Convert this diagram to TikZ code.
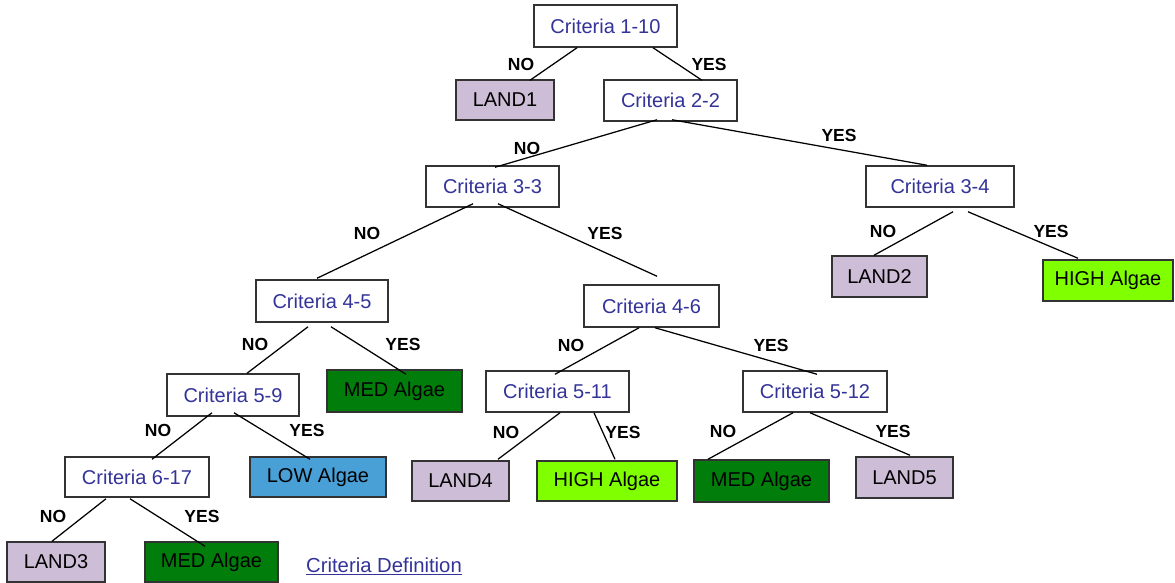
\documentclass[tikz,border=0pt]{standalone}
\usepackage{fontspec}
\setmainfont{Liberation Sans}
\definecolor{critblue}{RGB}{51,51,153}
\definecolor{landpurple}{RGB}{206,189,214}
\definecolor{medgreen}{RGB}{0,125,10}
\definecolor{highgreen}{RGB}{128,255,0}
\definecolor{lowblue}{RGB}{72,160,214}
\definecolor{boxline}{RGB}{51,51,51}
\begin{document}
\begin{tikzpicture}[x=1pt,y=-1pt,
    box/.style={rectangle,draw=boxline,line width=1.5pt,inner sep=0pt,minimum height=41pt,
      font=\fontsize{20}{23}\selectfont},
    crit/.style={box,fill=white,text=critblue},
    land/.style={box,fill=landpurple,minimum width=97pt},
    med/.style={box,fill=medgreen,minimum width=135pt},
    high/.style={box,fill=highgreen,minimum width=140pt},
    low/.style={box,fill=lowblue,minimum width=136pt},
    ans/.style={font=\fontsize{17.5}{20}\selectfont\bfseries},
    branch/.style={line width=1.25pt}]
        \useasboundingbox (0,0) rectangle (1175,582);
        % decision nodes
        \node at (605.5,26) [crit,minimum width=143pt,minimum height=42pt] (c110) {Criteria 1-10};
        \node at (670.5,100.5) [crit,minimum width=133pt] (c22) {Criteria 2-2};
        \node at (492.5,186.5) [crit,minimum width=133pt] (c33) {Criteria 3-3};
        \node at (940,186.5) [crit,minimum width=148pt] (c34) {Criteria 3-4};
        \node at (322,301) [crit,minimum width=132pt,minimum height=42pt] (c45) {Criteria 4-5};
        \node at (651.5,306) [crit,minimum width=135pt,minimum height=42pt] (c46) {Criteria 4-6};
        \node at (233,395) [crit,minimum width=132pt,minimum height=42pt] (c59) {Criteria 5-9};
        \node at (557.5,391.5) [crit,minimum width=143pt] (c511) {Criteria 5-11};
        \node at (815,391.5) [crit,minimum width=144pt] (c512) {Criteria 5-12};
        \node at (137,477) [crit,minimum width=144pt,minimum height=40pt] (c617) {Criteria 6-17};
        % leaves
        \node at (505,100) [land,minimum width=98pt,minimum height=40pt] (land1) {LAND1};
        \node at (879.5,276.5) [land,minimum width=95pt] (land2) {LAND2};
        \node at (1108,280.5) [high,minimum width=130pt] (high1) {HIGH Algae};
        \node at (394.5,391) [med,minimum height=42pt] (med1) {MED Algae};
        \node at (318,477) [low,minimum height=40pt] (low1) {LOW Algae};
        \node at (460.5,481) [land,minimum height=40pt] (land4) {LAND4};
        \node at (607,481) [high,minimum height=40pt] (high2) {HIGH Algae};
        \node at (761.5,481) [med,minimum height=42pt] (med2) {MED Algae};
        \node at (904.5,477.5) [land] (land5) {LAND5};
        \node at (56,562) [land,minimum width=98pt,minimum height=40pt] (land3) {LAND3};
        \node at (211.5,562) [med,minimum width=133pt,minimum height=40pt] (med3) {MED Algae};
        \node at (384,566) [text=critblue,font=\fontsize{20.3}{23}\selectfont] (cdef) {\underline{Criteria Definition}};
        % branches
        \draw[branch] ([xshift=-28.5pt]c110.south) -- ([xshift=25pt,yshift=-1pt]land1.north);
        \draw[branch] ([xshift=47.5pt]c110.south) -- ([xshift=31.5pt,yshift=-1pt]c22.north);
        \draw[branch] ([xshift=-13.5pt,yshift=2pt]c22.south) -- ([xshift=2.5pt,yshift=-2pt]c33.north);
        \draw[branch] ([xshift=1.5pt,yshift=2pt]c22.south) -- ([xshift=-13pt]c34.north);
        \draw[branch] ([xshift=-19.5pt,yshift=4pt]c33.south) -- ([xshift=-5pt,yshift=1pt]c45.north);
        \draw[branch] ([xshift=5.5pt,yshift=4pt]c33.south) -- ([xshift=5.5pt,yshift=8pt]c46.north);
        \draw[branch] ([xshift=13pt,yshift=-4pt]c34.south) -- ([xshift=-5.5pt]land2.north);
        \draw[branch] ([xshift=28pt,yshift=-4pt]c34.south) -- ([xshift=-30pt,yshift=1pt]high1.north);
        \draw[branch] ([xshift=-14pt,yshift=-4pt]c45.south) -- ([xshift=14pt]c59.north);
        \draw[branch] ([xshift=9pt,yshift=-4pt]c45.south) -- ([xshift=11.5pt,yshift=-5pt]med1.north);
        \draw[branch] ([xshift=-12.5pt]c46.south) -- ([xshift=-2.5pt,yshift=-4pt]c511.north);
        \draw[branch] ([xshift=3.5pt]c46.south) -- ([xshift=2pt,yshift=-4pt]c512.north);
        \draw[branch] ([xshift=-21pt,yshift=4pt]c59.south) -- ([xshift=15pt,yshift=-3pt]c617.north);
        \draw[branch] ([xshift=1pt,yshift=4pt]c59.south) -- ([xshift=-8pt,yshift=-3pt]low1.north);
        \draw[branch] ([xshift=2.5pt]c511.south) -- ([xshift=37.5pt,yshift=1pt]land4.north);
        \draw[branch] ([xshift=36.5pt]c511.south) -- ([xshift=8pt,yshift=1pt]high2.north);
        \draw[branch] ([xshift=-22pt]c512.south) -- ([xshift=-53.5pt]med2.north);
        \draw[branch] ([xshift=-5pt]c512.south) -- ([xshift=5.5pt,yshift=1pt]land5.north);
        \draw[branch] ([xshift=-31pt,yshift=-1pt]c617.south) -- ([xshift=-4pt]land3.north);
        \draw[branch] ([xshift=-7pt,yshift=-1pt]c617.south) -- ([xshift=-6.5pt,yshift=-5pt]med3.north);
        % answers on the branches
        \node at (521,64) [ans] (n1) {NO};
        \node at (709,64) [ans] (y1) {YES};
        \node at (527,148) [ans] (n2) {NO};
        \node at (839,135) [ans] (y2) {YES};
        \node at (367,233) [ans] (n3) {NO};
        \node at (605,233) [ans] (y3) {YES};
        \node at (883,231) [ans] (n4) {NO};
        \node at (1051,231) [ans] (y4) {YES};
        \node at (255,344) [ans] (n5) {NO};
        \node at (403,344) [ans] (y5) {YES};
        \node at (571,345) [ans] (n6) {NO};
        \node at (771,345) [ans] (y6) {YES};
        \node at (158,430) [ans] (n7) {NO};
        \node at (307,430) [ans] (y7) {YES};
        \node at (506,432) [ans] (n8) {NO};
        \node at (623,432) [ans] (y8) {YES};
        \node at (723,431) [ans] (n9) {NO};
        \node at (893,431) [ans] (y9) {YES};
        \node at (53,516) [ans] (n10) {NO};
        \node at (202,516) [ans] (y10) {YES};
      \end{tikzpicture}
\end{document}
